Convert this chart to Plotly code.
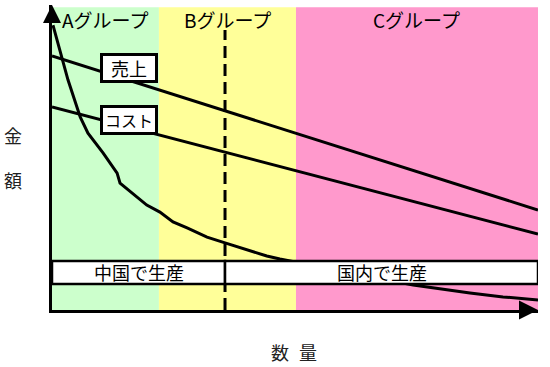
import plotly.graph_objects as go

# ---- data (conceptual units: quantity 0-100, amount 0-100) ----
groups = ["Aグループ", "Bグループ", "Cグループ"]
group_start = [0, 22.0, 50.2]
group_end = [22.0, 50.2, 100]
group_colors = ["#CCFFCC", "#FFFF99", "#FF99CC"]
group_top = 99.3

sales_x = [0, 100]
sales_y = [83.3, 32.8]
cost_x = [0, 100]
cost_y = [66.6, 24.9]

curve_x = [0.2, 1.2, 3.3, 5.8, 7.4, 10.5, 13.4, 14.0, 17.5, 19.5, 22.2, 24.9,
           27.8, 31.9, 35.6, 40.1, 44.2, 46.9, 74.3, 86.0, 92.8, 100]
curve_y = [93.4, 87.5, 75.4, 63.3, 58.0, 51.5, 44.9, 41.6, 37.0, 34.4, 32.1, 28.9,
           26.9, 23.9, 22.0, 19.7, 17.7, 16.7, 8.2, 5.6, 4.3, 3.3]

split_x = 35.6          # dashed boundary between production sites
split_top = 91.8
prod_labels = ["中国で生産", "国内で生産"]
prod_start = [0, split_x]
prod_end = [split_x, 100]
prod_y0, prod_y1 = 8.5, 16.1

line_labels = ["売上", "コスト"]
line_label_x = [15.9, 15.9]
line_label_y = [79.2, 62.3]
line_label_size = [18, 16]

y_title = ["金", "額"]
x_title = ["数", "量"]

FONT = "Noto Sans CJK JP, Noto Sans, sans-serif"

fig = go.Figure()

# background group bands
for s, e, c in zip(group_start, group_end, group_colors):
    fig.add_shape(type="rect", x0=s, x1=e, y0=0, y1=group_top, fillcolor=c,
                  line=dict(width=0), layer="below")

# dashed boundary
fig.add_trace(go.Scatter(x=[split_x, split_x], y=[0, split_top], mode="lines",
                         line=dict(color="black", width=3, dash="12px,6px"),
                         hoverinfo="skip"))

# sales, cost, unit-cost curve
for xs, ys in [(sales_x, sales_y), (cost_x, cost_y), (curve_x, curve_y)]:
    fig.add_trace(go.Scatter(x=xs, y=ys, mode="lines",
                             line=dict(color="black", width=3),
                             hoverinfo="skip", cliponaxis=False))

# axis arrowheads
fig.add_trace(go.Scatter(x=[0], y=[100], mode="markers", cliponaxis=False,
                         marker=dict(symbol="arrow-up", size=18, color="black",
                                     line=dict(width=0)), hoverinfo="skip"))
fig.add_trace(go.Scatter(x=[100], y=[0], mode="markers", cliponaxis=False,
                         marker=dict(symbol="arrow-right", size=19, color="black",
                                     line=dict(width=0)), hoverinfo="skip"))

# production boxes
for s, e, t in zip(prod_start, prod_end, prod_labels):
    fig.add_shape(type="rect", x0=s, x1=e, y0=prod_y0, y1=prod_y1,
                  fillcolor="white", line=dict(color="black", width=2.5), layer="above")
    fig.add_annotation(x=(s + e) / 2, y=(prod_y0 + prod_y1) / 2, text=t,
                       showarrow=False, font=dict(family=FONT, size=18, color="black"))

# group labels
for s, e, g in zip(group_start, group_end, groups):
    fig.add_annotation(x=(s + e) / 2, y=95.1, text=g, showarrow=False,
                       font=dict(family=FONT, size=19, color="black"))

# line labels
for t, x, y, fs in zip(line_labels, line_label_x, line_label_y, line_label_size):
    fig.add_annotation(x=x, y=y, text=t, showarrow=False, bgcolor="white",
                       bordercolor="black", borderwidth=3, borderpad=1,
                       width=50, height=22,
                       font=dict(family=FONT, size=fs, color="black"))

# axis titles (paper coordinates, outside plot area)
for t, yp in zip(y_title, [0.574, 0.426]):
    fig.add_annotation(xref="paper", yref="paper", x=-0.080, y=yp, text=t,
                       xanchor="center", yanchor="middle", showarrow=False,
                       font=dict(family=FONT, size=18, color="#222"))
for t, xp in zip(x_title, [0.469, 0.527]):
    fig.add_annotation(xref="paper", yref="paper", x=xp, y=-0.138, text=t,
                       xanchor="center", yanchor="middle", showarrow=False,
                       font=dict(family=FONT, size=18, color="#222"))

fig.update_layout(
    width=550, height=367,
    margin=dict(l=52, r=12, t=5, b=57),
    plot_bgcolor="white", paper_bgcolor="white",
    showlegend=False,
    xaxis=dict(range=[0, 100], showgrid=False, zeroline=False, showticklabels=False,
               ticks="", showline=True, linecolor="black", linewidth=3, fixedrange=True),
    yaxis=dict(range=[0, 100], showgrid=False, zeroline=False, showticklabels=False,
               ticks="", showline=True, linecolor="black", linewidth=3, fixedrange=True),
)

fig.write_html("out.html", config={"displayModeBar": False},
               post_script="document.body.style.margin='0';")
